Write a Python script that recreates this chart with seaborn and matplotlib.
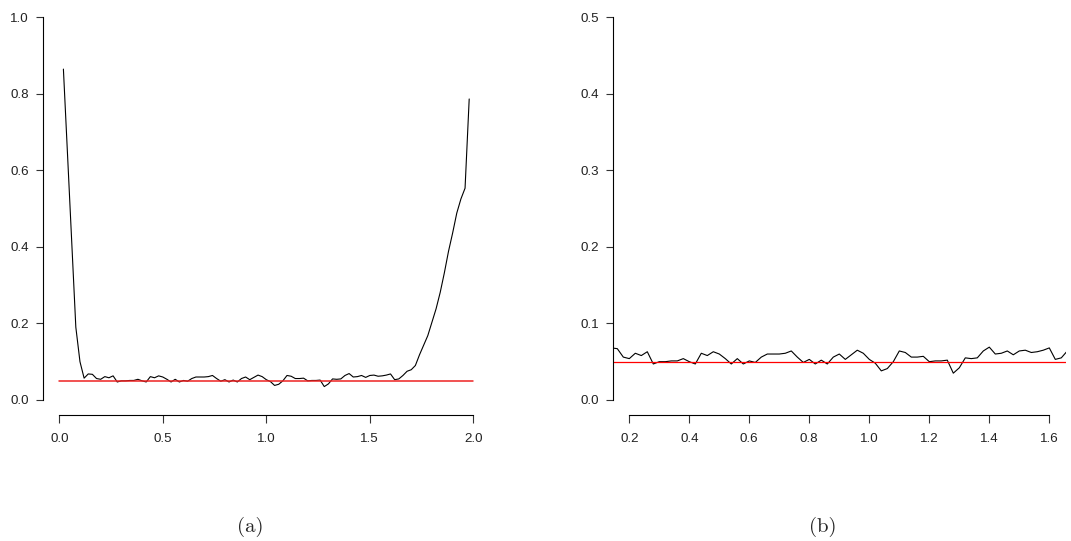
import matplotlib

matplotlib.use("Agg")
import matplotlib.pyplot as plt  # noqa: E402
import seaborn as sns  # noqa: E402

# rejection rate vs. parameter value
X_VALS = [
    0.02, 0.04, 0.06, 0.08, 0.10, 0.12, 0.14, 0.16, 0.18, 0.20,
    0.22, 0.24, 0.26, 0.28, 0.30, 0.32, 0.34, 0.36, 0.38, 0.40,
    0.42, 0.44, 0.46, 0.48, 0.50, 0.52, 0.54, 0.56, 0.58, 0.60,
    0.62, 0.64, 0.66, 0.68, 0.70, 0.72, 0.74, 0.76, 0.78, 0.80,
    0.82, 0.84, 0.86, 0.88, 0.90, 0.92, 0.94, 0.96, 0.98, 1.00,
    1.02, 1.04, 1.06, 1.08, 1.10, 1.12, 1.14, 1.16, 1.18, 1.20,
    1.22, 1.24, 1.26, 1.28, 1.30, 1.32, 1.34, 1.36, 1.38, 1.40,
    1.42, 1.44, 1.46, 1.48, 1.50, 1.52, 1.54, 1.56, 1.58, 1.60,
    1.62, 1.64, 1.66, 1.68, 1.70, 1.72, 1.74, 1.76, 1.78, 1.80,
    1.82, 1.84, 1.86, 1.88, 1.90, 1.92, 1.94, 1.96, 1.98,
]
REJ_RATE = [
    0.864, 0.640, 0.415, 0.190, 0.100, 0.057, 0.068, 0.067, 0.056, 0.054,
    0.061, 0.058, 0.063, 0.047, 0.050, 0.050, 0.051, 0.051, 0.054, 0.050,
    0.047, 0.061, 0.058, 0.063, 0.060, 0.054, 0.047, 0.054, 0.047, 0.051,
    0.049, 0.056, 0.060, 0.060, 0.060, 0.061, 0.064, 0.056, 0.049, 0.053,
    0.047, 0.052, 0.047, 0.056, 0.060, 0.053, 0.059, 0.065, 0.061, 0.053,
    0.048, 0.038, 0.041, 0.050, 0.064, 0.062, 0.056, 0.056, 0.057, 0.050,
    0.051, 0.051, 0.052, 0.035, 0.042, 0.055, 0.054, 0.055, 0.064, 0.069,
    0.060, 0.061, 0.064, 0.059, 0.064, 0.065, 0.062, 0.063, 0.065, 0.068,
    0.053, 0.055, 0.064, 0.075, 0.079, 0.090, 0.118, 0.143, 0.168, 0.203,
    0.238, 0.281, 0.332, 0.388, 0.436, 0.488, 0.525, 0.553, 0.786,
]
NOMINAL = 0.05

XTICKS_A = [0.0, 0.5, 1.0, 1.5, 2.0]
YTICKS_A = [0.0, 0.2, 0.4, 0.6, 0.8, 1.0]
XTICKS_B = [0.2, 0.4, 0.6, 0.8, 1.0, 1.2, 1.4, 1.6]
YTICKS_B = [0.0, 0.1, 0.2, 0.3, 0.4, 0.5]

sns.set_style("ticks")
plt.rcParams["font.family"] = ["Liberation Sans", "DejaVu Sans"]

W, H = 1071, 541
fig = plt.figure(figsize=(W / 100, H / 100), dpi=100)


def r_axes(rect, xticks, yticks, xlim, ylim):
    # base-R look: L-shaped axes, lines only between first and last tick
    ax = fig.add_axes(rect)
    ax.set_xlim(xlim)
    ax.set_ylim(ylim)
    for side in ("top", "right"):
        ax.spines[side].set_visible(False)
    for side in ("left", "bottom"):
        ax.spines[side].set_color("black")
        ax.spines[side].set_linewidth(0.8)
    ax.spines["left"].set_bounds(yticks[0], yticks[-1])
    ax.spines["bottom"].set_bounds(xticks[0], xticks[-1])
    ax.set_xticks(xticks)
    ax.set_xticklabels([f"{t:.1f}" for t in xticks], fontsize=9.6)
    ax.set_yticks(yticks)
    ax.set_yticklabels([f"{t:.1f}" for t in yticks], fontsize=9.6)
    ax.tick_params(axis="both", direction="out", length=5.4, width=0.8,
                   color="#333333", labelcolor="#222222",
                   bottom=True, left=True)
    ax.tick_params(axis="x", pad=7.0)
    ax.tick_params(axis="y", pad=4.5)
    ax.set_xlabel("")
    ax.set_ylabel("")
    return ax


def ext(lo, hi):
    d = 0.04 * (hi - lo)
    return (lo - d, hi + d)


# panel (a): full range
ax1 = r_axes([42.7 / W, 1 - 415.3 / H, 447.2 / W, 413.6 / H],
             XTICKS_A, YTICKS_A, ext(0, 2), ext(0, 1))
sns.lineplot(x=X_VALS, y=REJ_RATE, ax=ax1, color="black", linewidth=0.8,
             estimator=None, sort=False)
sns.lineplot(x=[XTICKS_A[0], XTICKS_A[-1]], y=[NOMINAL, NOMINAL], ax=ax1,
             color="#ee2222", linewidth=1.1, estimator=None)

# panel (b): zoom on the middle part
ax2 = r_axes([612.5 / W, 1 - 415.3 / H, 453.6 / W, 413.6 / H],
             XTICKS_B, YTICKS_B, ext(0.2, 1.6), ext(0, 0.5))
sns.lineplot(x=X_VALS, y=REJ_RATE, ax=ax2, color="black", linewidth=0.8,
             estimator=None, sort=False)
ax2.axhline(NOMINAL, color="red", linewidth=0.9)

for lab, cx in (("(a)", 250 / W), ("(b)", 823 / W)):
    fig.text(cx, 1 - 527 / H, lab, ha="center", va="center",
             fontsize=15, family="cmr10")

fig.savefig("out.png", dpi=100)
